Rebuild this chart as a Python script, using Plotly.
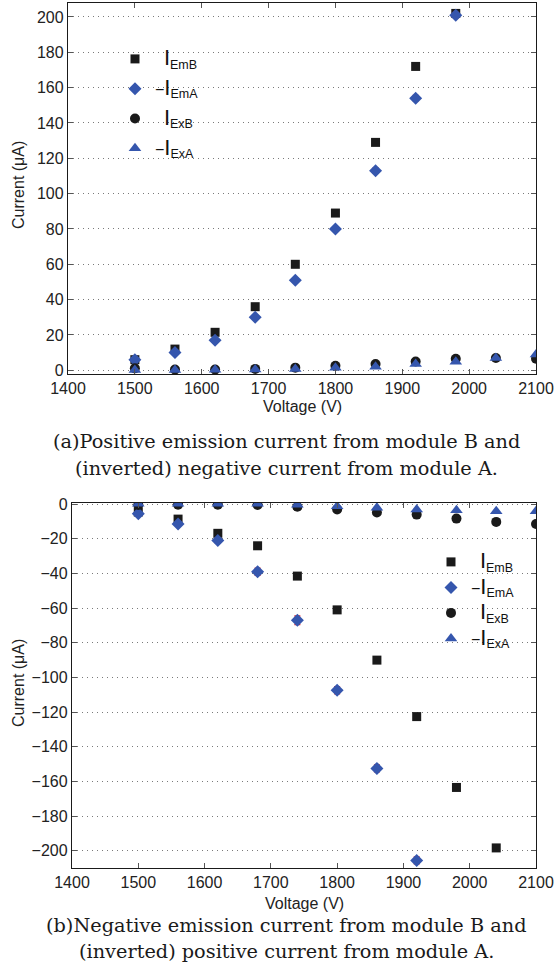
import plotly.graph_objects as go

# ---------------- data ----------------
voltage = [1500, 1560, 1620, 1680, 1740, 1800, 1860, 1920, 1980, 2040, 2100]

# (a) positive emission from module B, inverted negative from module A
a_EmB = [6, 12, 21.5, 36, 60, 89, 129, 172, 202, None, None]
a_EmA = [6, 10, 17, 30, 51, 80, 113, 154, 201, None, None]
a_ExB = [1.1, 0.4, 0.4, 0.8, 1.5, 2.5, 3.6, 5, 6.5, 7, 6.5]
a_ExA = [0.2, 0.2, 0.3, 0.4, 0.7, 1.5, 2, 3.5, 4.8, 7, 9]
a_EmA_err = [0.8, 0.8, 1, 1, 1, 1.2, 1.5, 1.5, 1.5, 0, 0]

# (b) negative emission from module B, inverted positive from module A
b_EmB = [-4.5, -8.6, -16.8, -24, -41.5, -61, -90, -122.6, -163.5, -198.4, None]
b_EmA = [-5.5, -11.4, -21, -39, -67, -107.4, -152.5, -205.6, None, None, None]
b_ExB = [-0.5, -0.3, -0.3, -0.5, -1.5, -3, -4.8, -6, -8.3, -10.2, -11.4]
b_ExA = [0.2, 0.2, 0.2, 0.2, -0.3, -1.2, -2, -3, -3.5, -4, -4]
b_EmA_err = [1, 1, 1.5, 2, 2.5, 2, 2, 2, 0, 0, 0]

x_ticks = [1400, 1500, 1600, 1700, 1800, 1900, 2000, 2100]
a_y_ticks = list(range(0, 201, 20))
b_y_ticks = list(range(-200, 1, 20))

big_I = '<span style="font-size:22px">I</span>'
def sub(s):
    return '<sub><span style="font-size:12.5px">' + s + '</span></sub>'
legend_names = ["\u00a0\u00a0" + big_I + sub("EmB"),
                "\u2212" + big_I + sub("EmA"),
                "\u00a0\u00a0" + big_I + sub("ExB"),
                "\u2212" + big_I + sub("ExA")]

caption_a = ["(a)Positive emission current from module B and",
             "(inverted) negative current from module A."]
caption_b = ["(b)Negative emission current from module B and",
             "(inverted) positive current from module A."]

# ---------------- style ----------------
W, H = 554, 974
BLACK = "#1a1a1a"
BLUE = "#3556ad"
SANS = "Liberation Sans, Arial, sans-serif"
SERIF = "DejaVu Serif, serif"

fig = go.Figure()

def add_set(xa, ya, emB, emA, exB, exA, err, legend):
    specs = [
        (emB, dict(symbol="square", size=9, color=BLACK), None),
        (emA, dict(symbol="diamond", size=10, color=BLUE), err),
        (exB, dict(symbol="circle", size=10, color=BLACK), None),
        (exA, dict(symbol="triangle-up", size=11, color=BLUE), None),
    ]
    for i, (vals, mk, e) in enumerate(specs):
        tr = dict(x=voltage, y=vals, mode="markers", marker=mk,
                  name=legend_names[i], xaxis=xa, yaxis=ya,
                  legend=legend, legendgroup=f"{legend}{i}")
        if e is not None:
            tr["error_y"] = dict(type="data", array=e, visible=True,
                                 color="#e8202a", thickness=1.5, width=3)
        fig.add_trace(go.Scatter(**tr))

add_set("x", "y", a_EmB, a_EmA, a_ExB, a_ExA, a_EmA_err, "legend")
add_set("x2", "y2", b_EmB, b_EmA, b_ExB, b_ExA, b_EmA_err, "legend2")

def py(p):
    return 1 - p / H

axis_common = dict(showline=True, linecolor=BLACK, linewidth=1.3, mirror="ticks",
                   ticks="inside", ticklen=5, tickcolor="#555555", tickwidth=1,
                   tickfont=dict(family=SANS, size=16, color="#222222"),
                   zeroline=False)
grid = dict(showgrid=True, gridcolor="#7a7a7a", griddash="1px,4px", gridwidth=1)

fig.update_layout(
    width=W, height=H, margin=dict(l=0, r=0, t=0, b=0, autoexpand=False),
    paper_bgcolor="white", plot_bgcolor="white",
    showlegend=True,
    xaxis=dict(domain=[68 / W, 536 / W], range=[1400, 2100], tickvals=x_ticks,
               showgrid=False, anchor="y", **axis_common),
    yaxis=dict(domain=[py(374), py(3)], range=[-2.1, 207.9], tickvals=a_y_ticks,
               anchor="x", **grid, **axis_common),
    xaxis2=dict(domain=[72 / W, 536 / W], range=[1400, 2100], tickvals=x_ticks,
                showgrid=False, anchor="y2", **axis_common),
    yaxis2=dict(domain=[py(868), py(503)], range=[-210, 0.7], tickvals=b_y_ticks,
                anchor="x2", **grid, **axis_common),
    legend=dict(x=115 / W, y=py(42), xanchor="left", yanchor="top",
                bgcolor="rgba(0,0,0,0)", tracegroupgap=6, itemwidth=30,
                font=dict(family=SANS, size=16, color="#111111")),
    legend2=dict(x=431 / W, y=py(545), xanchor="left", yanchor="top",
                 bgcolor="rgba(0,0,0,0)", tracegroupgap=1.7, itemwidth=30,
                 font=dict(family=SANS, size=16, color="#111111")),
)

ann = []
# axis titles
for (xc, yc) in [(302, 406), (304, 903)]:
    ann.append(dict(text="Voltage (V)", x=xc / W, y=py(yc), xref="paper", yref="paper",
                    showarrow=False, font=dict(family=SANS, size=16, color="#222222"),
                    xanchor="center", yanchor="middle"))
for (xc, yc) in [(18, 185), (18, 683)]:
    ann.append(dict(text="Current (\u03bcA)", x=xc / W, y=py(yc), xref="paper", yref="paper",
                    showarrow=False, textangle=-90,
                    font=dict(family=SANS, size=16, color="#222222"),
                    xanchor="center", yanchor="middle"))
# captions
for lines, ys in [(caption_a, (441, 468)), (caption_b, (925, 951))]:
    for t, yc in zip(lines, ys):
        ann.append(dict(text=t, x=286 / W, y=py(yc), xref="paper", yref="paper",
                        showarrow=False, font=dict(family=SERIF, size=19.3, color="#1a1a1a"),
                        xanchor="center", yanchor="middle"))
fig.update_layout(annotations=ann)

fig.write_html("out.html")
